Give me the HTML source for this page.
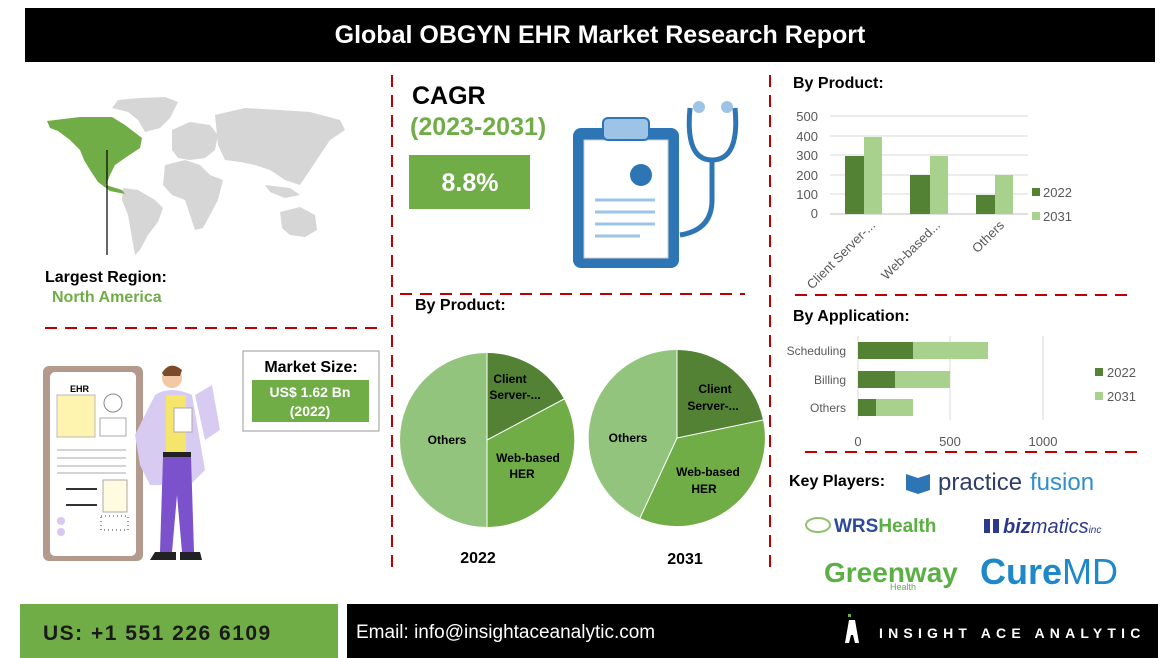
<!DOCTYPE html>
<html><head><meta charset="utf-8"><style>
html,body{margin:0;padding:0;background:#fff}
svg{display:block}
text{font-family:"Liberation Sans",Arial,sans-serif}
</style></head><body>
<svg width="1170" height="658" viewBox="0 0 1170 658" xmlns="http://www.w3.org/2000/svg">
<rect width="1170" height="658" fill="#fff"/>
<rect x="25" y="8" width="1130" height="54" fill="#000"/>
<text x="600" y="43" fill="#fff" font-size="25" font-weight="bold" text-anchor="middle">Global OBGYN EHR Market Research Report</text>

<!-- world map -->
<g fill="#d6d6d6">
<path d="M118 100 L140 98 L165 97 L178 102 L170 118 L160 128 L145 132 L138 120 L128 112 L112 108Z"/>
<path d="M123 188 L138 190 L155 200 L163 208 L158 222 L148 235 L140 250 L135 255 L132 238 L128 215 L122 200Z"/>
<path d="M165 165 L185 160 L200 165 L210 175 L223 180 L218 200 L210 215 L203 228 L195 230 L190 215 L185 200 L172 195 L163 185Z"/>
<path d="M172 130 L190 122 L210 125 L218 135 L215 150 L205 158 L190 160 L178 158 L172 150Z"/>
<path d="M215 115 L245 108 L280 110 L310 112 L340 120 L345 130 L330 140 L320 155 L310 170 L300 185 L285 180 L270 170 L255 165 L240 162 L225 160 L218 145Z"/>
<path d="M280 212 L300 207 L315 215 L317 230 L305 237 L290 235 L282 228Z"/>
<path d="M265 185 L290 188 L300 195 L285 198 L270 192Z"/>
</g>
<path d="M47 121 L80 117 L112 117 L125 125 L142 138 L140 148 L125 158 L115 165 L110 175 L106 185 L122 190 L125 194 L110 191 L98 182 L90 170 L84 160 L80 150 L70 140 L58 131 L50 128Z" fill="#70ad47"/>
<line x1="107" y1="150" x2="107" y2="255" stroke="#000" stroke-width="1.2"/>
<text x="45" y="282" font-size="16" font-weight="bold">Largest Region:</text>
<text x="52" y="302" font-size="16" font-weight="bold" fill="#70ad47">North America</text>

<g stroke="#c00000" stroke-width="2" stroke-dasharray="12,8" fill="none">
<line x1="45" y1="328" x2="378" y2="328"/>
<line x1="392" y1="75" x2="392" y2="572"/>
<line x1="770" y1="75" x2="770" y2="572"/>
<line x1="400" y1="294" x2="745" y2="294"/>
<line x1="795" y1="295" x2="1128" y2="295"/>
<line x1="805" y1="452" x2="1138" y2="452"/>
</g>

<text x="412" y="104" font-size="25" font-weight="bold">CAGR</text>
<text x="410" y="135" font-size="25" font-weight="bold" fill="#70ad47">(2023-2031)</text>
<rect x="409" y="155" width="121" height="54" fill="#70ad47"/>
<text x="470" y="191" font-size="25" font-weight="bold" fill="#fff" text-anchor="middle">8.8%</text>

<rect x="573" y="128" width="106" height="140" rx="8" fill="#2e75b6"/>
<rect x="584" y="140" width="84" height="118" fill="#fff" stroke="#ccc"/>
<rect x="603" y="118" width="46" height="22" rx="5" fill="#9dc3e6" stroke="#2e75b6" stroke-width="2"/>
<circle cx="641" cy="175" r="11" fill="#2e75b6"/>
<g stroke="#9dc3e6" stroke-width="3"><line x1="595" y1="200" x2="655" y2="200"/><line x1="595" y1="212" x2="655" y2="212"/><line x1="595" y1="224" x2="655" y2="224"/><line x1="595" y1="236" x2="640" y2="236"/></g>
<path d="M690 108 Q685 160 712 160 Q740 160 735 108" fill="none" stroke="#2e75b6" stroke-width="5"/>
<path d="M712 160 L712 200 Q712 230 680 235" fill="none" stroke="#2e75b6" stroke-width="5"/>
<circle cx="699" cy="107" r="6" fill="#9dc3e6"/><circle cx="727" cy="107" r="6" fill="#9dc3e6"/>

<text x="415" y="310" font-size="16" font-weight="bold">By Product:</text>
<g>
<path d="M487 440 L487 353 A87 87 0 0 1 564 399 Z" fill="#548235"/>
<path d="M487 440 L564 399 A87 87 0 0 1 487 527 Z" fill="#70ad47"/>
<path d="M487 440 L487 527 A87 87 0 0 1 487 353 Z" fill="#93c47d"/>
<g stroke="#fff" stroke-width="1"><line x1="487" y1="440" x2="487" y2="353"/><line x1="487" y1="440" x2="564" y2="399"/><line x1="487" y1="440" x2="487" y2="527"/></g>
<text x="510" y="383" font-size="12" font-weight="bold" text-anchor="middle">Client</text>
<text x="515" y="399" font-size="12" font-weight="bold" text-anchor="middle">Server-...</text>
<text x="528" y="462" font-size="12" font-weight="bold" text-anchor="middle">Web-based</text>
<text x="522" y="478" font-size="12" font-weight="bold" text-anchor="middle">HER</text>
<text x="447" y="444" font-size="12" font-weight="bold" text-anchor="middle">Others</text>
<text x="478" y="563" font-size="16" font-weight="bold" text-anchor="middle">2022</text>
</g>
<g>
<path d="M677 438 L677 350 A88 88 0 0 1 763 420 Z" fill="#548235"/>
<path d="M677 438 L763 420 A88 88 0 0 1 640 518 Z" fill="#70ad47"/>
<path d="M677 438 L640 518 A88 88 0 0 1 677 350 Z" fill="#93c47d"/>
<g stroke="#fff" stroke-width="1"><line x1="677" y1="438" x2="677" y2="350"/><line x1="677" y1="438" x2="763" y2="420"/><line x1="677" y1="438" x2="640" y2="518"/></g>
<text x="715" y="393" font-size="12" font-weight="bold" text-anchor="middle">Client</text>
<text x="713" y="410" font-size="12" font-weight="bold" text-anchor="middle">Server-...</text>
<text x="708" y="476" font-size="12" font-weight="bold" text-anchor="middle">Web-based</text>
<text x="704" y="493" font-size="12" font-weight="bold" text-anchor="middle">HER</text>
<text x="628" y="442" font-size="12" font-weight="bold" text-anchor="middle">Others</text>
<text x="685" y="564" font-size="16" font-weight="bold" text-anchor="middle">2031</text>
</g>

<rect x="243" y="351" width="136" height="80" fill="#fff" stroke="#999"/>
<text x="311" y="372" font-size="16" font-weight="bold" text-anchor="middle">Market Size:</text>
<rect x="252" y="380" width="117" height="42" fill="#70ad47"/>
<text x="310" y="397" font-size="14" font-weight="bold" fill="#fff" text-anchor="middle">US$ 1.62 Bn</text>
<text x="310" y="416" font-size="14" font-weight="bold" fill="#fff" text-anchor="middle">(2022)</text>

<rect x="43" y="366" width="100" height="195" rx="6" fill="#b39a8c"/>
<rect x="50" y="372" width="86" height="184" rx="5" fill="#fff"/>
<text x="70" y="392" font-size="9" font-weight="bold">EHR</text>
<rect x="57" y="395" width="38" height="42" fill="#fff3b0" stroke="#bbb"/>
<circle cx="113" cy="403" r="9" fill="none" stroke="#888"/>
<rect x="100" y="418" width="26" height="18" fill="none" stroke="#aaa"/>
<g stroke="#aaa"><line x1="57" y1="450" x2="126" y2="450"/><line x1="57" y1="458" x2="126" y2="458"/><line x1="57" y1="466" x2="126" y2="466"/><line x1="57" y1="473" x2="126" y2="473"/></g>
<g stroke="#333" stroke-width="2"><line x1="66" y1="489" x2="97" y2="489"/><line x1="66" y1="505" x2="97" y2="505"/></g>
<rect x="103" y="480" width="24" height="32" fill="#fffbe0" stroke="#aaa"/>
<circle cx="61" cy="521" r="4" fill="#d8c8ef"/><circle cx="61" cy="532" r="4" fill="#d8c8ef"/>
<rect x="101" y="516" width="27" height="14" fill="none" stroke="#333" stroke-dasharray="1,3"/>
<circle cx="172" cy="378" r="10" fill="#f2c9a5"/>
<path d="M162 373 Q170 360 182 370 L180 376 L164 376Z" fill="#7a4a2a"/>
<path d="M155 395 Q170 385 192 395 L205 470 L190 485 L150 485 L140 465 L135 435Z" fill="#d7cbf2"/>
<rect x="166" y="395" width="20" height="58" fill="#f5e56b"/>
<rect x="163" y="452" width="28" height="5" fill="#222"/>
<path d="M163 457 L191 457 L194 552 L182 552 L177 495 L172 552 L160 552Z" fill="#7b52cc"/>
<path d="M155 552 L176 552 L176 560 L150 560Z M180 552 L200 552 L202 560 L180 560Z" fill="#222"/>
<path d="M195 395 L212 385 L220 430 L205 440Z" fill="#d7cbf2"/>
<rect x="174" y="408" width="18" height="24" fill="#fff" stroke="#aaa"/>

<text x="793" y="88" font-size="16" font-weight="bold">By Product:</text>
<g stroke="#d9d9d9" stroke-width="1">
<line x1="830" y1="116" x2="1028" y2="116"/><line x1="830" y1="136" x2="1028" y2="136"/><line x1="830" y1="155" x2="1028" y2="155"/><line x1="830" y1="175" x2="1028" y2="175"/><line x1="830" y1="194" x2="1028" y2="194"/>
<line x1="830" y1="214" x2="1028" y2="214" stroke="#bfbfbf"/>
</g>
<g font-size="13" fill="#595959" text-anchor="end">
<text x="818" y="121">500</text><text x="818" y="141">400</text><text x="818" y="160">300</text><text x="818" y="180">200</text><text x="818" y="199">100</text><text x="818" y="218">0</text>
</g>
<g fill="#548235"><rect x="845" y="156" width="19" height="58"/><rect x="910" y="175" width="20" height="39"/><rect x="976" y="195" width="19" height="19"/></g>
<g fill="#a9d18e"><rect x="864" y="137" width="18" height="77"/><rect x="930" y="156" width="18" height="58"/><rect x="995" y="175" width="18" height="39"/></g>
<g font-size="13" fill="#595959" text-anchor="end">
<text transform="translate(876,226) rotate(-45)">Client Server-...</text>
<text transform="translate(941,226) rotate(-45)">Web-based...</text>
<text transform="translate(1005,226) rotate(-45)">Others</text>
</g>
<rect x="1032" y="188" width="8" height="8" fill="#548235"/><text x="1043" y="197" font-size="13" fill="#595959">2022</text>
<rect x="1032" y="212" width="8" height="8" fill="#a9d18e"/><text x="1043" y="221" font-size="13" fill="#595959">2031</text>

<text x="793" y="321" font-size="16" font-weight="bold">By Application:</text>
<line x1="950" y1="336" x2="950" y2="420" stroke="#d9d9d9"/>
<line x1="1043" y1="336" x2="1043" y2="420" stroke="#d9d9d9"/>
<line x1="858" y1="336" x2="858" y2="420" stroke="#d9d9d9"/>
<g fill="#548235"><rect x="858" y="342" width="55" height="17"/><rect x="858" y="371" width="37" height="17"/><rect x="858" y="399" width="18" height="17"/></g>
<g fill="#a9d18e"><rect x="913" y="342" width="75" height="17"/><rect x="895" y="371" width="55" height="17"/><rect x="876" y="399" width="37" height="17"/></g>
<g font-size="12" fill="#595959" text-anchor="end"><text x="846" y="355">Scheduling</text><text x="846" y="384">Billing</text><text x="846" y="412">Others</text></g>
<g font-size="13" fill="#595959" text-anchor="middle"><text x="858" y="446">0</text><text x="950" y="446">500</text><text x="1043" y="446">1000</text></g>
<rect x="1095" y="368" width="8" height="8" fill="#548235"/><text x="1107" y="377" font-size="13" fill="#595959">2022</text>
<rect x="1095" y="392" width="8" height="8" fill="#a9d18e"/><text x="1107" y="401" font-size="13" fill="#595959">2031</text>

<text x="789" y="486" font-size="16" font-weight="bold">Key Players:</text>
<path d="M906 474 L918 478 L930 474 L930 490 L918 494 L906 490Z" fill="#2e75b6"/>
<text x="938" y="490" font-size="24" fill="#2f3e66">practice</text><text x="1030" y="490" font-size="24" fill="#2e8fd0">fusion</text>
<ellipse cx="818" cy="525" rx="12" ry="7" fill="none" stroke="#8dc26f" stroke-width="2"/>
<text x="834" y="532" font-size="19" font-weight="bold" fill="#2d4a9a">WRS<tspan fill="#5bb044">Health</tspan></text>
<rect x="984" y="519" width="6" height="14" fill="#2d3a8c"/>
<rect x="993" y="519" width="6" height="14" fill="#2d3a8c"/>
<text x="1003" y="533" font-size="20" font-style="italic" fill="#2d3a8c"><tspan font-weight="bold">biz</tspan>matics<tspan font-size="10">inc</tspan></text>
<text x="824" y="582" font-size="28" font-weight="bold" fill="#5bb044">Greenway</text>
<text x="890" y="590" font-size="9" fill="#5bb044">Health</text>
<text x="980" y="584" font-size="36" fill="#1e88c8"><tspan font-weight="bold">Cure</tspan>MD</text>

<rect x="20" y="604" width="318" height="54" fill="#70ad47"/>
<text x="43" y="640" font-size="21" font-weight="bold" fill="#1a1a1a" letter-spacing="1.5">US: +1 551 226 6109</text>
<rect x="347" y="604" width="811" height="54" fill="#000"/>
<text x="356" y="638" font-size="19" fill="#fff">Email: info@insightaceanalytic.com</text>
<rect x="848" y="614" width="3" height="3" fill="#70ad47"/>
<path d="M845 643 L849 620 L855 620 L859 643 L855 643 L853 635 L851 635 L849 643Z" fill="#fff"/>
<text x="879" y="638" font-size="14" font-weight="bold" fill="#fff" letter-spacing="5.2">INSIGHT ACE ANALYTIC</text>
</svg>
</body></html>
